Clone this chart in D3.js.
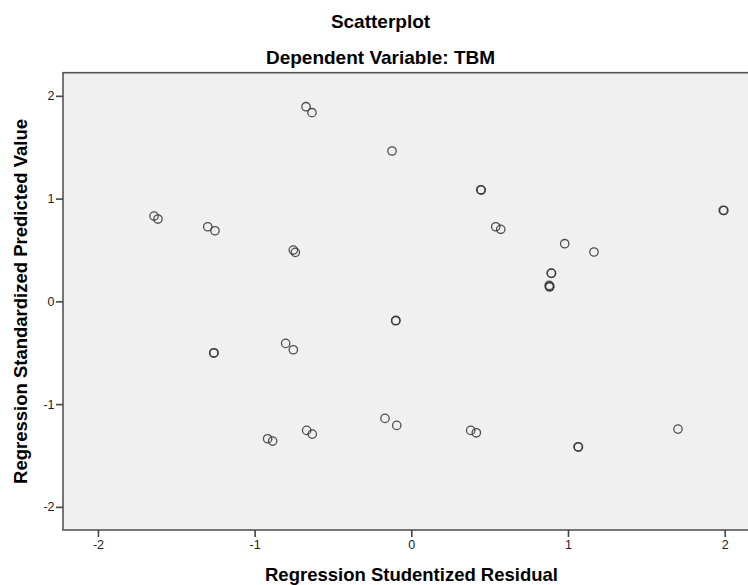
<!DOCTYPE html>
<html>
<head>
<meta charset="utf-8">
<script src="https://cdn.jsdelivr.net/npm/d3@7"></script>
<style>
  body { margin: 0; background: #fff; }
  svg { display: block; font-family: "Liberation Sans", Arial, sans-serif; }
</style>
</head>
<body>
<script>
// studentized residual (x) vs standardized predicted value (y)
const residual = [
    -0.672, -0.634, -0.123, 0.443, 0.447, 0.539, 0.571, 0.979, 1.166, 1.991, 1.995,
    0.893, 0.895, 0.880, 0.882, 0.884,
    -1.642, -1.617, -1.299, -1.253, -0.753, -0.740,
    -1.261, -1.259, -0.802, -0.753, -0.917, -0.885, -0.668, -0.632,
    -0.100, -0.098, -0.168, -0.093, 0.379, 0.415, 1.064, 1.067, 1.702
];
const predicted = [
    1.894, 1.836, 1.463, 1.086, 1.083, 0.726, 0.701, 0.561, 0.480, 0.886, 0.884,
    0.275, 0.272, 0.155, 0.140, 0.147,
    0.830, 0.801, 0.726, 0.687, 0.499, 0.477,
    -0.503, -0.500, -0.409, -0.471, -1.337, -1.360, -1.256, -1.292,
    -0.189, -0.186, -1.139, -1.207, -1.256, -1.279, -1.415, -1.418, -1.243
];
const xTicks = [-2, -1, 0, 1, 2];
const yTicks = [-2, -1, 0, 1, 2];

const width = 748;
const height = 585;
const margin = {top: 72.7, left: 63, bottom: 530};

const svg = d3.select('body').append('svg')
    .attr('width', width)
    .attr('height', height);

const x = d3.scaleLinear()
    .domain([-2.223, 2.223])
    .range([margin.left, 759.6]);

const y = d3.scaleLinear()
    .domain([-2.225, 2.225])
    .range([margin.bottom, margin.top]);

// plot background (right side runs off the picture)
svg.append('rect')
    .attr('x', margin.left)
    .attr('y', margin.top)
    .attr('width', 759.6 - margin.left)
    .attr('height', margin.bottom - margin.top)
    .style('fill', '#f0f0f0')
    .style('stroke', '#555')
    .style('stroke-width', 1.6);

// plain hyphen for negatives, like the original
const fmt = d => String(d);

const xAxis = svg.append('g')
    .attr('transform', `translate(0,${margin.bottom})`)
    .call(d3.axisBottom(x).tickValues(xTicks).tickSize(7).tickSizeOuter(0).tickFormat(fmt));

const yAxis = svg.append('g')
    .attr('transform', `translate(${margin.left},0)`)
    .call(d3.axisLeft(y).tickValues(yTicks).tickSize(7).tickSizeOuter(0).tickFormat(fmt));

[xAxis, yAxis].forEach(a => {
    a.select('.domain').remove();
    a.selectAll('line').style('stroke', '#444').style('stroke-width', 1.6);
    a.selectAll('text')
        .style('font-size', '12.5px')
        .style('fill', '#222')
        .style('font-family', '"Liberation Sans", Arial, sans-serif');
});
yAxis.selectAll('text').attr('x', -8.5);
xAxis.selectAll('text').attr('y', 10);

const points = residual.map((r, i) => ({r, p: predicted[i]}));

svg.append('g')
    .selectAll('circle')
    .data(points)
    .enter()
    .append('circle')
    .attr('cx', d => x(d.r))
    .attr('cy', d => y(d.p))
    .attr('r', 4.2)
    .style('fill', 'none')
    .style('stroke', '#333')
    .style('stroke-width', 1.3)
    .style('stroke-opacity', 0.85);

// titles
svg.append('text')
    .attr('x', 380.5)
    .attr('y', 28)
    .attr('text-anchor', 'middle')
    .style('font-weight', 'bold')
    .style('font-size', '19px')
    .text('Scatterplot');

svg.append('text')
    .attr('x', 380.5)
    .attr('y', 64)
    .attr('text-anchor', 'middle')
    .style('font-weight', 'bold')
    .style('font-size', '19px')
    .text('Dependent Variable: TBM');

svg.append('text')
    .attr('x', 411.5)
    .attr('y', 581)
    .attr('text-anchor', 'middle')
    .style('font-weight', 'bold')
    .style('font-size', '18.5px')
    .text('Regression Studentized Residual');

svg.append('text')
    .attr('transform', 'translate(26.5,301.5) rotate(-90)')
    .attr('text-anchor', 'middle')
    .style('font-weight', 'bold')
    .style('font-size', '18.5px')
    .text('Regression Standardized Predicted Value');
</script>
</body>
</html>
